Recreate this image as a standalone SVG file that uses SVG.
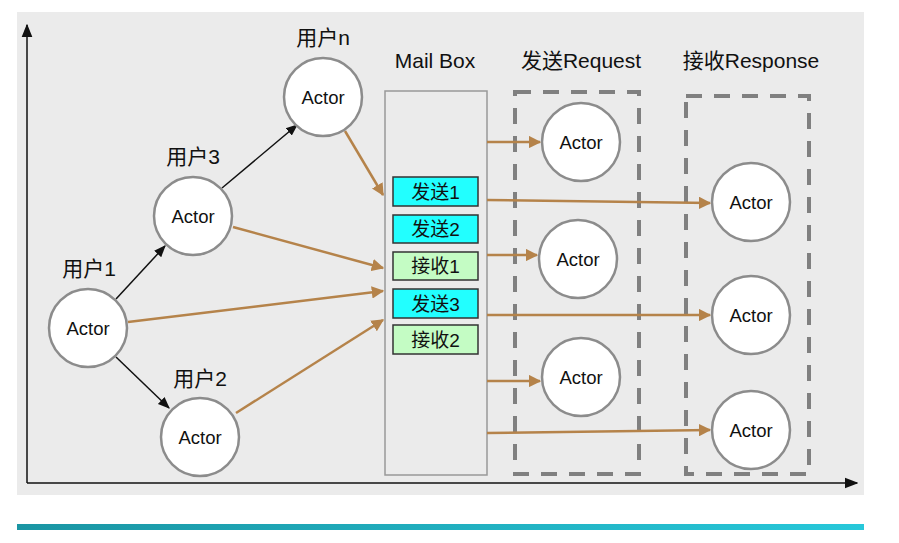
<svg xmlns="http://www.w3.org/2000/svg" width="899" height="543" viewBox="0 0 899 543">
<defs>
<style>
.actor{fill:#fff;stroke:#8c8c8c;stroke-width:2.5}
.t{font-family:"Liberation Sans","Noto Sans CJK SC",sans-serif;font-size:18.5px;fill:#111;text-anchor:middle}
.s{font-family:"Liberation Sans","Noto Sans CJK SC",sans-serif;font-size:19px;fill:#111;text-anchor:middle}
.lb{font-family:"Liberation Sans","Noto Sans CJK SC",sans-serif;font-size:21px;fill:#111;text-anchor:middle}
.slotB{fill:#22ffff;stroke:#333;stroke-width:1.5}
.slotG{fill:#c4fcc4;stroke:#333;stroke-width:1.5}
.dash{fill:none;stroke:#808080;stroke-width:4;stroke-dasharray:16 12}
.br{stroke:#b5834a;stroke-width:2.5;fill:none;marker-end:url(#ab)}
.bk{stroke:#111;stroke-width:1.5;fill:none;marker-end:url(#ak)}
</style>
<marker id="ab" viewBox="0 0 10 10" refX="9" refY="5" markerWidth="5" markerHeight="5" orient="auto" markerUnits="strokeWidth"><path d="M0,0L10,5L0,10z" fill="#b5834a"/></marker>
<marker id="ak" viewBox="0 0 10 10" refX="9" refY="5" markerWidth="8" markerHeight="8" orient="auto" markerUnits="strokeWidth"><path d="M0,1L10,5L0,9z" fill="#111"/></marker>
<marker id="ax" viewBox="0 0 10 10" refX="9" refY="5" markerWidth="9" markerHeight="9" orient="auto" markerUnits="strokeWidth"><path d="M0,1L10,5L0,9z" fill="#111"/></marker>
<linearGradient id="bar" x1="0" x2="1" y1="0" y2="0"><stop offset="0" stop-color="#1a95a3"/><stop offset="1" stop-color="#27c8da"/></linearGradient>
</defs>
<rect x="0" y="0" width="899" height="543" fill="#fff"/>
<rect x="17" y="12" width="847" height="483" fill="#ebebeb"/>
<rect x="17" y="524" width="847" height="6" fill="url(#bar)"/>
<g id="axes">
<line x1="27" y1="483" x2="27" y2="25" stroke="#111" stroke-width="1.5" marker-end="url(#ax)"/>
<line x1="27" y1="483" x2="857" y2="483" stroke="#111" stroke-width="1.5" marker-end="url(#ax)"/>
</g>
<g id="mailbox">
<rect x="385" y="91" width="102" height="384" fill="#ebebeb" stroke="#999" stroke-width="1.5"/>
<text class="lb" x="435" y="68">Mail Box</text>
</g>
<g id="slot-send1"><rect class="slotB" x="393" y="177" width="85" height="29"/><text class="s" x="435.5" y="199">发送1</text></g>
<g id="slot-send2"><rect class="slotB" x="393" y="215" width="85" height="28"/><text class="s" x="435.5" y="236">发送2</text></g>
<g id="slot-recv1"><rect class="slotG" x="393" y="252" width="85" height="28"/><text class="s" x="435.5" y="273">接收1</text></g>
<g id="slot-send3"><rect class="slotB" x="393" y="289" width="85" height="29"/><text class="s" x="435.5" y="311">发送3</text></g>
<g id="slot-recv2"><rect class="slotG" x="393" y="325" width="85" height="29"/><text class="s" x="435.5" y="347">接收2</text></g>
<g id="request-group">
<rect class="dash" x="515" y="92" width="124" height="382"/>
<text class="lb" x="581" y="68">发送Request</text>
</g>
<g id="response-group">
<rect class="dash" x="686" y="96" width="123" height="378"/>
<text class="lb" x="751" y="68">接收Response</text>
</g>
<g id="connectors">
<line class="bk" x1="116" y1="299" x2="165" y2="246"/>
<line class="bk" x1="116" y1="357" x2="169" y2="408"/>
<line class="bk" x1="222" y1="188" x2="297" y2="125"/>
<line class="br" x1="345" y1="131" x2="383" y2="195"/>
<line class="br" x1="233" y1="227" x2="383" y2="268"/>
<line class="br" x1="128" y1="322" x2="383" y2="291"/>
<line class="br" x1="236" y1="413" x2="383" y2="320"/>
<line class="br" x1="487" y1="142" x2="540" y2="142"/>
<line class="br" x1="487" y1="200" x2="710" y2="203"/>
<line class="br" x1="487" y1="255" x2="537" y2="255"/>
<line class="br" x1="487" y1="315" x2="710" y2="315"/>
<line class="br" x1="487" y1="381" x2="540" y2="381"/>
<line class="br" x1="487" y1="433" x2="710" y2="430"/>
</g>
<g id="user1"><circle class="actor" cx="88" cy="328" r="39"/><text class="t" x="88" y="335">Actor</text><text class="lb" x="89" y="276">用户1</text></g>
<g id="user2"><circle class="actor" cx="200" cy="437" r="39"/><text class="t" x="200" y="444">Actor</text><text class="lb" x="200" y="386">用户2</text></g>
<g id="user3"><circle class="actor" cx="193" cy="216" r="39"/><text class="t" x="193" y="223">Actor</text><text class="lb" x="193" y="164">用户3</text></g>
<g id="usern"><circle class="actor" cx="323" cy="97" r="39"/><text class="t" x="323" y="104">Actor</text><text class="lb" x="323" y="45">用户n</text></g>
<g id="req1"><circle class="actor" cx="581" cy="142" r="39"/><text class="t" x="581" y="149">Actor</text></g>
<g id="req2"><circle class="actor" cx="578" cy="259" r="39"/><text class="t" x="578" y="266">Actor</text></g>
<g id="req3"><circle class="actor" cx="581" cy="377" r="39"/><text class="t" x="581" y="384">Actor</text></g>
<g id="resp1"><circle class="actor" cx="751" cy="202" r="39"/><text class="t" x="751" y="209">Actor</text></g>
<g id="resp2"><circle class="actor" cx="751" cy="315" r="39"/><text class="t" x="751" y="322">Actor</text></g>
<g id="resp3"><circle class="actor" cx="751" cy="430" r="39"/><text class="t" x="751" y="437">Actor</text></g>
</svg>
